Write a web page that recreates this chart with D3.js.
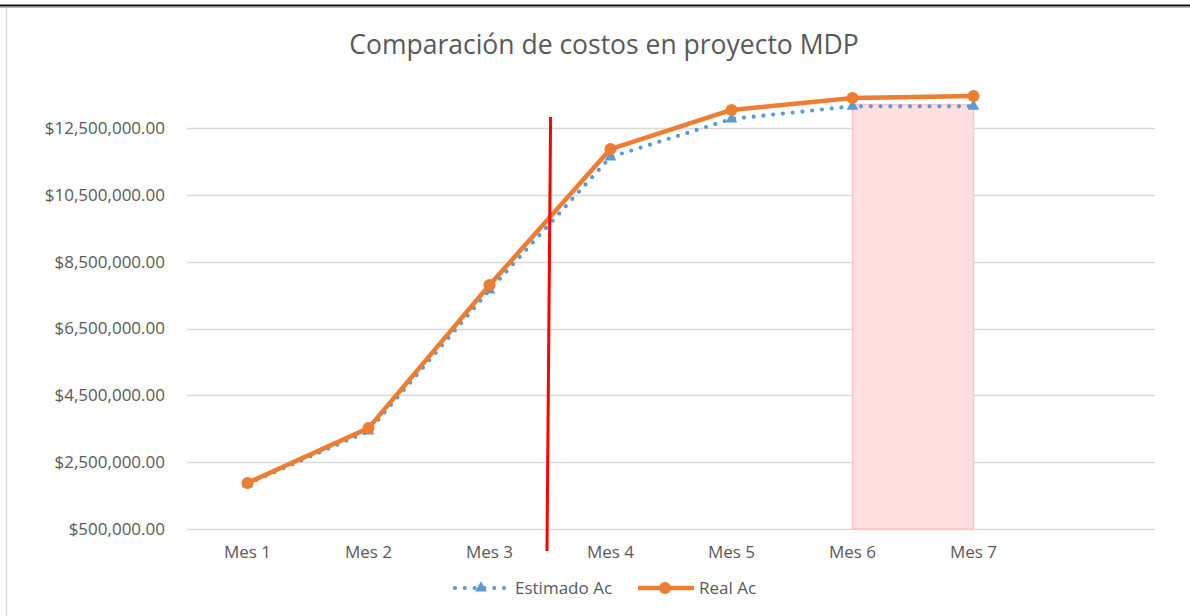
<!DOCTYPE html>
<html>
<head>
<meta charset="utf-8">
<script src="https://cdn.jsdelivr.net/npm/d3@7"></script>
<style>
  html, body { margin: 0; padding: 0; background: #fff; }
  svg { display: block; }
  text { font-family: "Open Sans", "Liberation Sans", sans-serif; fill: #595959; }
</style>
</head>
<body>
<svg id="chart" width="1190" height="616"></svg>
<script>
// Categories (the last slot is left empty on the axis)
const categories = ["Mes 1", "Mes 2", "Mes 3", "Mes 4", "Mes 5", "Mes 6", "Mes 7", ""];
// Cumulative estimated cost per month
const estimadoAc = [1850000, 3430000, 7650000, 11630000, 12770000, 13150000, 13150000];
// Cumulative actual cost per month
const realAc = [1880000, 3520000, 7800000, 11870000, 13040000, 13400000, 13460000];
// Y axis tick values
const yTicks = [500000, 2500000, 4500000, 6500000, 8500000, 10500000, 12500000];
// Cut-off marker between Mes 3 and Mes 4 (0-based category position, value top/bottom)
const cutoffLine = { xTop: 2.505, xBottom: 2.475, yTop: 12830000, yBottom: -160000 };
// Highlighted range Mes 6 – Mes 7 (category indices, value range)
const highlightRange = { from: 5, to: 6, low: 500000, high: 13200000 };

const svg = d3.select("#chart");
const W = 1190, H = 616;
const FS = "17px";

// Frame: dark rule across the top, light border on the left
svg.append("line").attr("x1", 0).attr("x2", W).attr("y1", 5.5).attr("y2", 5.5)
  .attr("stroke", "#111").attr("stroke-width", 2);
svg.append("line").attr("x1", 0).attr("x2", W).attr("y1", 7.5).attr("y2", 7.5)
  .attr("stroke", "#bbb").attr("stroke-width", 1);
svg.append("line").attr("x1", 6.5).attr("x2", 6.5).attr("y1", 8).attr("y2", H)
  .attr("stroke", "#d9d9d9").attr("stroke-width", 1.5);

const plot = { left: 187, right: 1155 };

const x = d3.scaleBand().domain(d3.range(categories.length)).range([plot.left, plot.right]);
const xc = i => x(0) + x.bandwidth() * (i + 0.5);
const y = d3.scaleLinear().domain([500000, 12500000]).range([529, 128]);

// Title
svg.append("text").attr("x", 604).attr("y", 54).attr("text-anchor", "middle")
  .style("font-size", "26.5px").text("Comparación de costos en proyecto MDP");

// Gridlines
svg.append("g").selectAll("line").data(yTicks).join("line")
  .attr("x1", plot.left).attr("x2", plot.right)
  .attr("y1", d => Math.round(y(d)) + 0.5).attr("y2", d => Math.round(y(d)) + 0.5)
  .attr("stroke", "#d9d9d9").attr("stroke-width", 1.3);

// Y axis labels
const fmt = d3.format("$,.2f");
const yAxis = d3.axisLeft(y).tickValues(yTicks).tickFormat(fmt).tickSize(0).tickPadding(0);
svg.append("g").attr("transform", "translate(165,0)").call(yAxis)
  .call(g => g.select(".domain").remove())
  .call(g => g.selectAll("text").style("font-size", FS).attr("fill", "#595959")
    .style("font-family", "'Open Sans', sans-serif"));

// X axis labels
const xAxis = d3.axisBottom(x).tickFormat(i => categories[i]).tickSize(0).tickPadding(0);
svg.append("g").attr("transform", "translate(0,546)").call(xAxis)
  .call(g => g.select(".domain").remove())
  .call(g => g.selectAll("text").style("font-size", FS).attr("fill", "#595959")
    .style("font-family", "'Open Sans', sans-serif"));

// Highlighted range
svg.append("rect")
  .attr("x", xc(highlightRange.from)).attr("y", y(highlightRange.high))
  .attr("width", xc(highlightRange.to) - xc(highlightRange.from))
  .attr("height", y(highlightRange.low) - y(highlightRange.high))
  .attr("fill", "#ffdfe0").attr("stroke", "#ffc4c6").attr("stroke-width", 1.5);

// Estimado Ac: dotted blue line with triangles
const line = d3.line().x((d, i) => xc(i)).y(d => y(d));
svg.append("path").datum(estimadoAc).attr("d", line)
  .attr("fill", "none").attr("stroke", "#5b9bd5").attr("stroke-width", 4.2)
  .attr("stroke-linecap", "round").attr("stroke-dasharray", "0,9.8");
const tri = d3.symbol().type(d3.symbolTriangle).size(60);
svg.append("g").selectAll("path").data(estimadoAc).join("path")
  .attr("d", tri).attr("transform", (d, i) => `translate(${xc(i)},${y(d)})`)
  .attr("fill", "#5b9bd5");

// Real Ac: solid orange line with circles
svg.append("path").datum(realAc).attr("d", line)
  .attr("fill", "none").attr("stroke", "#ed7d31").attr("stroke-width", 4.5)
  .attr("stroke-linejoin", "round");
svg.append("g").selectAll("circle").data(realAc).join("circle")
  .attr("cx", (d, i) => xc(i)).attr("cy", d => y(d)).attr("r", 6)
  .attr("fill", "#ed7d31");

// Cut-off line
svg.append("line")
  .attr("x1", xc(cutoffLine.xTop)).attr("y1", y(cutoffLine.yTop))
  .attr("x2", xc(cutoffLine.xBottom)).attr("y2", y(cutoffLine.yBottom))
  .attr("stroke", "#ff0000").attr("stroke-width", 3);

// Legend
const lg = svg.append("g").attr("transform", "translate(0,588)");
lg.append("line").attr("x1", 455).attr("x2", 507).attr("y1", 0).attr("y2", 0)
  .attr("stroke", "#5b9bd5").attr("stroke-width", 4.2).attr("stroke-linecap", "round")
  .attr("stroke-dasharray", "0,9.8");
lg.append("path").attr("d", tri).attr("transform", "translate(481,0)").attr("fill", "#5b9bd5");
lg.append("text").attr("x", 515).attr("y", 0).attr("dy", "0.35em")
  .style("font-size", FS).text("Estimado Ac");
lg.append("line").attr("x1", 638).attr("x2", 694).attr("y1", 0).attr("y2", 0)
  .attr("stroke", "#ed7d31").attr("stroke-width", 4.5);
lg.append("circle").attr("cx", 665).attr("cy", 0).attr("r", 6).attr("fill", "#ed7d31");
lg.append("text").attr("x", 699).attr("y", 0).attr("dy", "0.35em")
  .style("font-size", FS).text("Real Ac");
</script>
</body>
</html>
